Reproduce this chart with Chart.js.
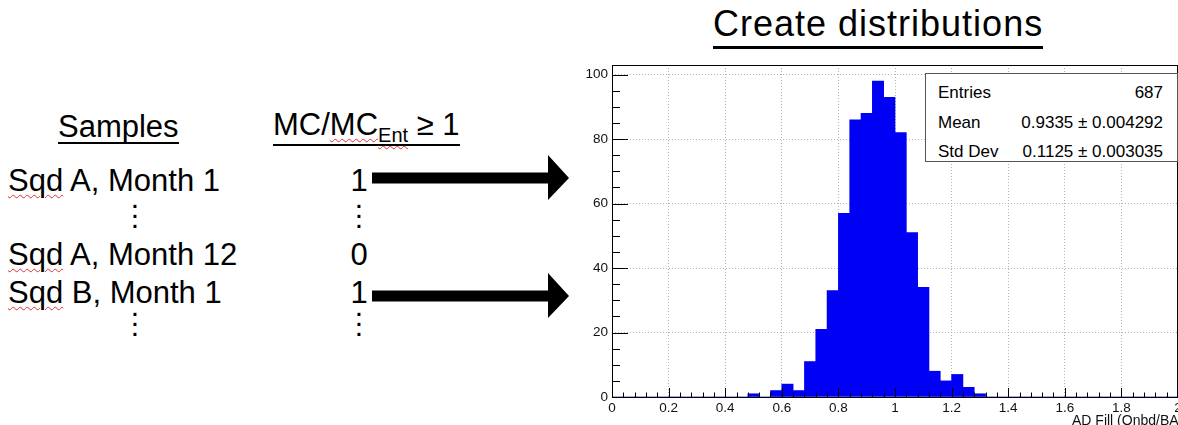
<!DOCTYPE html>
<html>
<head>
<meta charset="utf-8">
<script src="https://cdn.jsdelivr.net/npm/chart.js@4.4.1/dist/chart.umd.min.js"></script>
<style>
  html, body { margin: 0; padding: 0; background: #fff; }
  body { width: 1178px; height: 425px; position: relative; overflow: hidden;
         font-family: 'Liberation Sans', Arial, sans-serif; color: #000; }
  .abs { position: absolute; white-space: nowrap; }
  .big { font-size: 31px; line-height: 30px; }
  .ul { display: inline-block; border-bottom: 2px solid #000; }
  .squig { text-decoration: underline wavy #e03030; text-decoration-thickness: 1px; text-underline-offset: 3px; }
  .dots { font-size: 30px; line-height: 10px; width: 20px; text-align: center; }
  .val { width: 30px; text-align: center; }
  #chartBox { position: absolute; left: 560px; top: 55px; width: 618px; height: 370px; }
  #stats { position: absolute; left: 925px; top: 73px; width: 251px; height: 87px;
           border: 1.5px solid #555; background: #fff; font-size: 17px; z-index: 2; }
  #stats .row { position: absolute; left: 12px; right: 14px; height: 18px; line-height: 18px; }
  #stats .row span:last-child { position: absolute; right: 0; }
</style>
</head>
<body>

<div class="abs" style="left:713px; top:6px; font-size:36px; line-height:36px; letter-spacing:1px;">
  <span class="ul" style="border-bottom-width:3px; padding-bottom:4px;">Create distributions</span>
</div>

<div class="abs" style="left:58px; top:111px; font-size:31px; line-height:31px;">
  <span class="ul">Samples</span>
</div>
<div class="abs" style="left:273px; top:109px; font-size:31px; line-height:31px;">
  <span class="ul">MC/<span class="squig">MC</span><span class="squig" style="font-size:20px; position:relative; top:7px;">Ent</span> ≥ 1</span>
</div>

<div class="abs big" style="left:8px; top:166px;"><span class="squig">Sqd</span> A, Month 1</div>
<div class="abs big" style="left:8px; top:240px;"><span class="squig">Sqd</span> A, Month 12</div>
<div class="abs big" style="left:8px; top:278px;"><span class="squig">Sqd</span> B, Month 1</div>

<div class="abs big val" style="left:344px; top:166px;">1</div>
<div class="abs big val" style="left:344px; top:240px;">0</div>
<div class="abs big val" style="left:344px; top:278px;">1</div>

<div class="abs dots" style="left:125px; top:193px;">.<br>.<br>.</div>
<div class="abs dots" style="left:349px; top:193px;">.<br>.<br>.</div>
<div class="abs dots" style="left:125px; top:301px;">.<br>.<br>.</div>
<div class="abs dots" style="left:349px; top:301px;">.<br>.<br>.</div>

<svg class="abs" style="left:0; top:0;" width="600" height="425">
  <polygon points="372,172.5 548,172.5 548,155 569,178 548,200 548,183.5 372,183.5" fill="#000"/>
  <polygon points="372,290.5 548,290.5 548,273 569,296 548,318 548,301.5 372,301.5" fill="#000"/>
</svg>

<div id="chartBox"><canvas id="histChart" width="618" height="370"></canvas></div>

<div id="stats"></div>

<div class="abs" style="left:1072px; top:413px; font-size:14px; line-height:14px; color:#111;">AD Fill (Onbd/BA)</div>

<script>
// histogram: 50 bins of width 0.04 from 0 to 2
const binWidth = 0.04;
const counts = [
  0, 0, 0, 0, 0, 0, 0, 0, 0, 0,
  0, 0, 1, 0, 2, 4, 2, 11, 21, 33,
  57, 86, 88, 98, 93, 82, 51, 34, 8, 5,
  7, 3, 1, 0, 0, 0, 0, 0, 0, 0,
  0, 0, 0, 0, 0, 0, 0, 0, 0, 0
];
const binCenters = counts.map((c, i) => +(binWidth * i + binWidth / 2).toFixed(2));

const xTicks = [0, 0.2, 0.4, 0.6, 0.8, 1, 1.2, 1.4, 1.6, 1.8, 2];
const xTickLabels = ['0', '0.2', '0.4', '0.6', '0.8', '1', '1.2', '1.4', '1.6', '1.8', '2'];
const yTicks = [0, 20, 40, 60, 80, 100];
const yTickLabels = ['0', '20', '40', '60', '80', '100'];
const xMinorStep = 0.04;
const yMinorStep = 5;

const statLabels = ['Entries', 'Mean', 'Std Dev'];
const statValues = ['687', '0.9335 \u00b1 0.004292', '0.1125 \u00b1 0.003035'];

// stats box
const statsEl = document.getElementById('stats');
const statTops = [10, 40, 69];
statLabels.forEach((lab, i) => {
    const row = document.createElement('div');
    row.className = 'row';
    row.style.top = statTops[i] + 'px';
    row.innerHTML = '<span>' + lab + '</span><span>' + statValues[i] + '</span>';
    statsEl.appendChild(row);
});

// ROOT style frame + inward ticks
const rootFrame = {
    id: 'rootFrame',
    afterDatasetsDraw(chart) {
        const ctx = chart.ctx;
        const a = chart.chartArea;
        const xs = chart.scales.x, ys = chart.scales.y;
        ctx.save();
        ctx.strokeStyle = '#000';
        ctx.lineWidth = 1;
        ctx.beginPath();
        // x ticks
        for (let v = 0; v <= 2 + 1e-9; v += xMinorStep) {
            const px = Math.round(xs.getPixelForValue(v)) + 0.5;
            const major = xTicks.some(t => Math.abs(t - v) < 1e-6);
            ctx.moveTo(px, a.bottom);
            ctx.lineTo(px, a.bottom - (major ? 9 : 4.5));
        }
        // y ticks
        for (let v = 0; v <= 100 + 1e-9; v += yMinorStep) {
            const py = Math.round(ys.getPixelForValue(v)) + 0.5;
            const major = yTicks.includes(v);
            ctx.moveTo(a.left, py);
            ctx.lineTo(a.left + (major ? 16 : 8), py);
        }
        ctx.stroke();
        ctx.strokeRect(Math.round(a.left) + 0.5, Math.round(a.top) + 0.5,
            Math.round(a.right - a.left) - 1, Math.round(a.bottom - a.top));
        ctx.restore();
    }
};

const ctx = document.getElementById('histChart').getContext('2d');
new Chart(ctx, {
    type: 'bar',
    data: {
        datasets: [{
            label: 'AD Fill',
            data: binCenters.map((x, i) => ({ x: x, y: counts[i] })),
            backgroundColor: 'rgb(0, 0, 245)',
            borderWidth: 0,
            barPercentage: 1,
            categoryPercentage: 1
        }]
    },
    options: {
        responsive: false,
        animation: false,
        layout: { padding: { left: 0, right: 0, top: 10, bottom: 0 } },
        plugins: { legend: { display: false }, tooltip: { enabled: false } },
        scales: {
            x: {
                type: 'linear',
                min: 0,
                max: 2,
                offset: false,
                afterBuildTicks: s => { s.ticks = xTicks.map(v => ({ value: v })); },
                afterFit: s => { s.height = 28; s.paddingLeft = 0; s.paddingRight = 0; },
                ticks: {
                    autoSkip: false,
                    maxRotation: 0,
                    padding: 3,
                    color: '#111',
                    font: { family: 'Liberation Sans', size: 13.5 },
                    callback: (v, i) => xTickLabels[i]
                },
                grid: { offset: false, drawTicks: false, color: '#b4b4b4' },
                border: { display: false, dash: [1, 2] }
            },
            y: {
                min: 0,
                max: 103,
                afterBuildTicks: s => { s.ticks = yTicks.map(v => ({ value: v })); },
                afterFit: s => { s.width = 52; s.paddingTop = 0; s.paddingBottom = 0; },
                ticks: {
                    padding: 4,
                    color: '#111',
                    font: { family: 'Liberation Sans', size: 13.5 },
                    callback: (v, i) => yTickLabels[i]
                },
                grid: { drawTicks: false, color: '#b4b4b4' },
                border: { display: false, dash: [1, 2] }
            }
        }
    },
    plugins: [rootFrame]
});
</script>
</body>
</html>
